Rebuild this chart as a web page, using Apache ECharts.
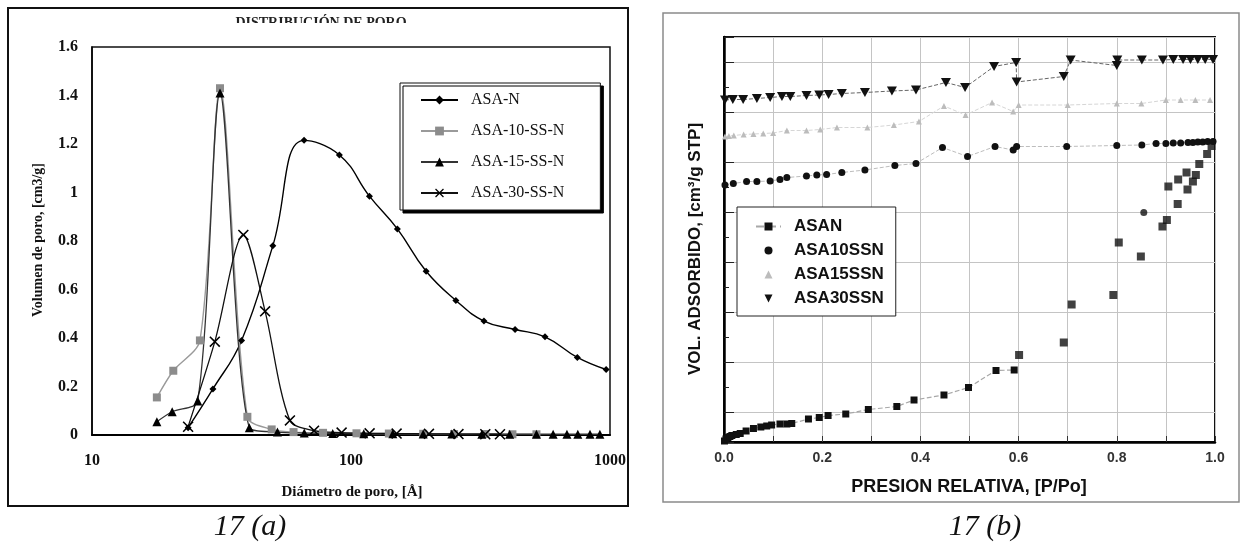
<!DOCTYPE html>
<html><head><meta charset="utf-8">
<script src="https://cdn.jsdelivr.net/npm/echarts@6/dist/echarts.min.js"></script>
<style>html,body{margin:0;padding:0;background:#fff}#c{width:1242px;height:543px}</style>
</head><body><div id="c"></div>
<script>
// ===== Fig 17(a): pore size distribution (x: pore diameter, Å, log; y: cm3/g) =====
const aNames = ['ASA-N', 'ASA-10-SS-N', 'ASA-15-SS-N', 'ASA-30-SS-N'];
const asaN_diam  = [23.5, 29.3, 37.8, 49.9, 65.9, 90.2, 117.8, 151, 195, 254, 326, 430, 561, 748, 966];
const asaN_vol   = [0.03, 0.19, 0.39, 0.78, 1.215, 1.155, 0.985, 0.85, 0.675, 0.555, 0.47, 0.435, 0.405, 0.32, 0.27];
const asa10_diam = [17.8, 20.6, 26.1, 31.2, 39.8, 49.4, 60, 78, 105, 140, 190, 250, 330, 420, 520];
const asa10_vol  = [0.155, 0.265, 0.39, 1.43, 0.075, 0.023, 0.012, 0.009, 0.007, 0.006, 0.005, 0.004, 0.004, 0.003, 0.003];
const asa15_diam = [17.8, 20.4, 25.6, 31.2, 40.5, 52, 66, 85, 112, 145, 190, 245, 320, 410, 520, 603, 682, 751, 837, 914];
const asa15_vol  = [0.055, 0.096, 0.14, 1.41, 0.03, 0.012, 0.008, 0.006, 0.005, 0.005, 0.004, 0.004, 0.003, 0.003, 0.003, 0.003, 0.003, 0.003, 0.003, 0.003];
const asa30_diam = [23.5, 29.8, 38.4, 46.6, 58.1, 72, 92, 118, 150, 200, 260, 330, 376];
const asa30_vol  = [0.034, 0.385, 0.825, 0.51, 0.06, 0.018, 0.01, 0.007, 0.006, 0.005, 0.004, 0.003, 0.003];
const aYTicks = [0, 0.2, 0.4, 0.6, 0.8, 1, 1.2, 1.4, 1.6];
const aXTicks = [10, 100, 1000];

// ===== Fig 17(b): N2 isotherms (x: P/Po; y: adsorbed volume, arbitrary offset units) =====
const bNames = ['ASAN', 'ASA10SSN', 'ASA15SSN', 'ASA30SSN'];
const asanAds_p = [0.001,0.004,0.008,0.012,0.016,0.025,0.033,0.045,0.06,0.075,0.087,0.097,0.114,0.128,0.138,0.172,0.194,0.212,0.248,0.294,0.352,0.387,0.448,0.498,0.554,0.591];
const asanAds_v = [-58,-54,-51,-49,-47,-45,-43,-38,-33,-30,-28,-26,-24,-24,-23,-14,-11,-7,-4,5,11,24,34,49,83,84];
const asanHys_p = [0.601,0.692,0.708,0.793,0.804,0.849,0.893,0.902,0.905,0.924,0.925,0.942,0.944,0.955,0.961,0.968,0.984,0.993];
const asanHys_v = [114,139,215,234,339,311,371,384,451,416,465,479,445,461,474,496,516,532];
const asa10L_p = [0.002,0.019,0.046,0.067,0.094,0.114,0.128,0.168,0.189,0.209,0.24,0.287,0.348,0.391,0.445,0.496,0.552,0.589,0.596,0.698,0.8,0.851,0.88,0.9,0.915,0.93,0.945,0.955,0.965,0.975,0.985,0.996];
const asa10L_v = [454,457,461,461,462,465,469,472,474,475,479,484,493,497,529,511,531,524,531,531,533,534,537,537,538,538,539,539,540,540,541,541];
const asa10S_p = [0.855];
const asa10S_v = [399];
const asa15_p = [0.002,0.01,0.02,0.04,0.06,0.08,0.1,0.128,0.168,0.196,0.23,0.292,0.346,0.397,0.448,0.492,0.546,0.589,0.6,0.7,0.8,0.85,0.9,0.93,0.96,0.99];
const asa15_v = [551,552,553,555,556,557,558,563,563,565,569,569,574,581,612,594,619,601,614,614,617,617,624,624,624,624];
const asa30_p = [0.002,0.018,0.039,0.067,0.094,0.118,0.135,0.168,0.194,0.213,0.24,0.287,0.342,0.391,0.452,0.491,0.55,0.595,0.596,0.692,0.706,0.8,0.801,0.851,0.894,0.915,0.935,0.95,0.965,0.98,0.996];
const asa30_v = [624,625,625,627,629,631,631,633,634,635,637,639,642,644,659,649,691,699,660,671,704,693,704,704,704,705,705,705,705,705,705];
const bXTicks = [0, 0.2, 0.4, 0.6, 0.8, 1.0];

function pairs(xs, ys) { return xs.map((x, i) => [x, ys[i]]); }
const xSym = 'path://M0,1L1,0L5,4L9,0L10,1L6,5L10,9L9,10L5,6L1,10L0,9L4,5Z';
const downTri = 'path://M0,0L10,0L5,9Z';
const SERIF = '"Liberation Serif", "Times New Roman", serif';
const SANS = '"Liberation Sans", Arial, sans-serif';

const chart = echarts.init(document.getElementById('c'), null, {renderer: 'canvas'});
const option = {
  animation: false,
  backgroundColor: '#fff',
  grid: [
    {left: 92, top: 47, width: 518, height: 388, show: true, borderColor: '#111', borderWidth: 1.5, backgroundColor: 'transparent'},
    {left: 724, top: 37, width: 491, height: 405, show: true, borderColor: '#111', borderWidth: 2, backgroundColor: 'transparent'}
  ],
  xAxis: [
    {gridIndex: 0, type: 'log', logBase: 10, min: aXTicks[0], max: aXTicks[aXTicks.length - 1],
     axisLine: {onZero: false, lineStyle: {color: '#000', width: 2}}, axisTick: {show: false}, splitLine: {show: false},
     axisLabel: {margin: 18, fontFamily: SERIF, fontWeight: 'bold', fontSize: 16, color: '#111',
       formatter: v => String(Math.round(v))}},
    {gridIndex: 1, type: 'value', min: 0, max: 1, interval: 0.1,
     axisLine: {onZero: false, lineStyle: {color: '#000', width: 2.5}},
     axisTick: {inside: true, length: 6, lineStyle: {color: '#333'}},
     splitLine: {show: true, lineStyle: {color: '#c4c4c4', width: 1}},
     axisLabel: {margin: 9, fontFamily: SANS, fontWeight: 'bold', fontSize: 14, color: '#333',
       formatter: v => bXTicks.some(t => Math.abs(t - v) < 1e-6) ? v.toFixed(1) : ''}}
  ],
  yAxis: [
    {gridIndex: 0, type: 'value', min: aYTicks[0], max: aYTicks[aYTicks.length - 1], interval: 0.2,
     axisLine: {onZero: false, lineStyle: {color: '#000', width: 1.5}}, axisTick: {show: false}, splitLine: {show: false},
     axisLabel: {margin: 14, fontFamily: SERIF, fontWeight: 'bold', fontSize: 16, color: '#111',
       formatter: v => String(Math.round(v * 10) / 10)}},
    {gridIndex: 1, type: 'value', min: -60, max: 750, splitNumber: 8,
     axisLine: {onZero: false, lineStyle: {color: '#000', width: 2.5}},
     axisTick: {inside: true, length: 10, lineStyle: {color: '#222'}},
     minorTick: {show: true, splitNumber: 2, length: 5, lineStyle: {color: '#222'}},
     splitLine: {show: true, lineStyle: {color: '#c4c4c4', width: 1}},
     axisLabel: {show: false}}
  ],
  legend: [
    {left: 400, top: 83, orient: 'vertical', itemWidth: 37, itemHeight: 11, itemGap: 15,
     padding: [9, 36, 9, 20], backgroundColor: '#fff', borderColor: '#111', borderWidth: 1,
     shadowColor: '#000', shadowBlur: 0, shadowOffsetX: 3, shadowOffsetY: 3,
     data: aNames,
     textStyle: {fontFamily: SERIF, fontSize: 16, color: '#111', padding: [0, 0, 0, 8]}},
    {left: 737, top: 207, orient: 'vertical', itemWidth: 25, itemHeight: 10, itemGap: 7,
     padding: [11, 12, 9, 18], backgroundColor: '#fff', borderColor: '#222', borderWidth: 1,
     data: [
       {name: bNames[0]},
       {name: bNames[1], lineStyle: {width: 0, color: 'rgba(0,0,0,0)'}},
       {name: bNames[2], lineStyle: {width: 0, color: 'rgba(0,0,0,0)'}},
       {name: bNames[3], lineStyle: {width: 0, color: 'rgba(0,0,0,0)'}}
     ],
     textStyle: {fontFamily: SANS, fontWeight: 'bold', fontSize: 17, color: '#111', padding: [0, 0, 0, 8]}}
  ],
  series: [
    {name: aNames[0], type: 'line', xAxisIndex: 0, yAxisIndex: 0, smooth: 0.45, data: pairs(asaN_diam, asaN_vol),
     symbol: 'diamond', symbolSize: 7, itemStyle: {color: '#000'}, lineStyle: {color: '#000', width: 1.4}},
    {name: aNames[1], type: 'line', xAxisIndex: 0, yAxisIndex: 0, smooth: 0.3, data: pairs(asa10_diam, asa10_vol),
     symbol: 'rect', symbolSize: 8, itemStyle: {color: '#8c8c8c'}, lineStyle: {color: '#9a9a9a', width: 1.4}},
    {name: aNames[2], type: 'line', xAxisIndex: 0, yAxisIndex: 0, smooth: 0.3, data: pairs(asa15_diam, asa15_vol),
     symbol: 'triangle', symbolSize: 9, itemStyle: {color: '#000'}, lineStyle: {color: '#333', width: 1.3}},
    {name: aNames[3], type: 'line', xAxisIndex: 0, yAxisIndex: 0, smooth: 0.3, data: pairs(asa30_diam, asa30_vol),
     symbol: xSym, symbolSize: 11, itemStyle: {color: '#000'}, lineStyle: {color: '#111', width: 1.3}},

    {name: bNames[0], type: 'line', xAxisIndex: 1, yAxisIndex: 1, data: pairs(asanAds_p, asanAds_v),
     symbol: 'rect', symbolSize: 7, itemStyle: {color: '#111'}, lineStyle: {type: 'dashed', color: '#a8a8a8', width: 1.2}},
    {name: bNames[0], type: 'scatter', xAxisIndex: 1, yAxisIndex: 1, data: pairs(asanHys_p, asanHys_v),
     symbol: 'rect', symbolSize: 8, itemStyle: {color: '#111'}},
    {name: bNames[1], type: 'line', xAxisIndex: 1, yAxisIndex: 1, data: pairs(asa10L_p, asa10L_v),
     symbol: 'circle', symbolSize: 7, itemStyle: {color: '#111'}, lineStyle: {type: 'dashed', color: '#bdbdbd', width: 1}},
    {name: bNames[1], type: 'scatter', xAxisIndex: 1, yAxisIndex: 1, data: pairs(asa10S_p, asa10S_v),
     symbol: 'circle', symbolSize: 7, itemStyle: {color: '#111'}},
    {name: bNames[2], type: 'line', xAxisIndex: 1, yAxisIndex: 1, data: pairs(asa15_p, asa15_v),
     symbol: 'triangle', symbolSize: 6, itemStyle: {color: '#bcbcbc'}, lineStyle: {type: 'dashed', color: '#d6d6d6', width: 1}},
    {name: bNames[3], type: 'line', xAxisIndex: 1, yAxisIndex: 1, data: pairs(asa30_p, asa30_v),
     symbol: downTri, symbolSize: [10, 9], itemStyle: {color: '#111'}, lineStyle: {type: 'dashed', color: '#666', width: 1}}
  ],
  graphic: [
    {type: 'rect', shape: {x: 8, y: 8, width: 620, height: 498}, style: {fill: 'none', stroke: '#111', lineWidth: 2}, z: 0, silent: true},
    {type: 'rect', shape: {x: 663, y: 13, width: 576, height: 489}, style: {fill: 'none', stroke: '#8a8a8a', lineWidth: 1.5}, z: 0, silent: true},
    {type: 'text', x: 321, y: 16, z: 1, silent: true,
     style: {text: 'DISTRIBUCIÓN DE PORO', font: 'bold 14px ' + SERIF, fill: '#222', textAlign: 'center', align: 'center', textVerticalAlign: 'top', verticalAlign: 'top'}},
    {type: 'rect', shape: {x: 200, y: 23, width: 250, height: 14}, style: {fill: '#fff'}, z: 2, silent: true},
    {type: 'text', x: 38, y: 240, rotation: Math.PI / 2, z: 3, silent: true,
     style: {text: 'Volumen de poro, [cm3/g]', font: 'bold 14px ' + SERIF, fill: '#111', textAlign: 'center', align: 'center', textVerticalAlign: 'middle', verticalAlign: 'middle'}},
    {type: 'text', x: 352, y: 492, z: 3, silent: true,
     style: {text: 'Diámetro de poro, [Å]', font: 'bold 15px ' + SERIF, fill: '#111', textAlign: 'center', align: 'center', textVerticalAlign: 'middle', verticalAlign: 'middle'}},
    {type: 'text', x: 250, y: 527, z: 3, silent: true,
     style: {text: '17 (a)', font: 'italic 30px ' + SERIF, fill: '#111', textAlign: 'center', align: 'center', textVerticalAlign: 'middle', verticalAlign: 'middle'}},
    {type: 'text', x: 695, y: 249, rotation: Math.PI / 2, z: 3, silent: true,
     style: {text: 'VOL. ADSORBIDO, [cm³/g STP]', font: 'bold 17px ' + SANS, fill: '#111', textAlign: 'center', align: 'center', textVerticalAlign: 'middle', verticalAlign: 'middle'}},
    {type: 'text', x: 969, y: 487, z: 3, silent: true,
     style: {text: 'PRESION RELATIVA, [P/Po]', font: 'bold 18px ' + SANS, fill: '#111', textAlign: 'center', align: 'center', textVerticalAlign: 'middle', verticalAlign: 'middle'}},
    {type: 'text', x: 985, y: 527, z: 3, silent: true,
     style: {text: '17 (b)', font: 'italic 30px ' + SERIF, fill: '#111', textAlign: 'center', align: 'center', textVerticalAlign: 'middle', verticalAlign: 'middle'}}
  ]
};
chart.setOption(option);
</script>
</body></html>
